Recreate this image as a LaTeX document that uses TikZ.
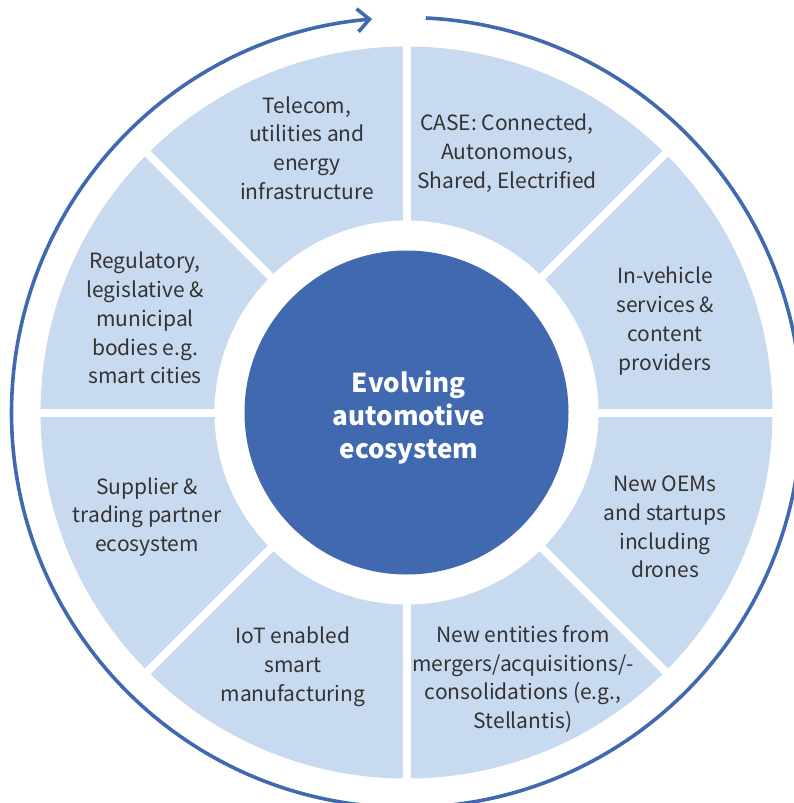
\documentclass[tikz,border=0pt]{standalone}
\usepackage{fontspec}
\setmainfont{Noto Sans CJK SC}
\usetikzlibrary{arrows.meta}
\definecolor{ringblue}{RGB}{200,218,240}
\definecolor{darkblue}{RGB}{65,105,176}
\definecolor{txtgray}{RGB}{51,51,51}
\begin{document}
\begin{tikzpicture}[x=1pt,y=-1pt,
  segtext/.style={align=center, text=txtgray, font=\fontsize{21}{28.8}\selectfont, inner sep=0pt},
  hubstyle/.style={circle, fill=darkblue, minimum size=324pt, inner sep=0pt},
  hubtext/.style={text=white, align=center, inner sep=0pt, font=\bfseries\fontsize{26}{33}\selectfont},
  divider/.style={white, line width=8pt},
  cycle/.style={darkblue, line width=3.6pt, -{Straight Barb[length=12pt,width=23pt]}}
]
\useasboundingbox (0,0) rectangle (793,803);
\coordinate (c) at (406.5,412.5);
\fill[ringblue] (c) circle[radius=366];
\fill[white] (c) circle[radius=192];
\foreach \a in {0,45,90,135}
  \draw[divider] ([shift={(\a:380)}]c) -- ([shift={(\a+180:380)}]c);
\node[hubstyle] (hub) at (c) {};
\node[hubtext] (hubt) at (409,418) {Evolving\\automotive\\ecosystem};
\draw[cycle] ([shift={(-87.2:395)}]c) arc[start angle=-87.2, end angle=265, radius=395];
\node[segtext] (s1) at (307,148) {Telecom,\\utilities and\\energy\\infrastructure};
\node[segtext] (s2) at (507,153) {CASE: Connected,\\Autonomous,\\Shared, Electrified};
\node[segtext] (s3) at (665,321) {In-vehicle\\services \&\\content\\providers};
\node[segtext] (s4) at (665,527) {New OEMs\\and startups\\including\\drones};
\node[segtext] (s5) at (523,679) {New entities from\\mergers/acquisitions/-\\consolidations (e.g.,\\Stellantis)};
\node[segtext] (s6) at (293,667) {IoT enabled\\smart\\manufacturing};
\node[segtext] (s7) at (147,517) {Supplier \&\\trading partner\\ecosystem};
\node[segtext] (s8) at (145,318) {Regulatory,\\legislative \&\\municipal\\bodies e.g.\\smart cities};
\end{tikzpicture}
\end{document}
